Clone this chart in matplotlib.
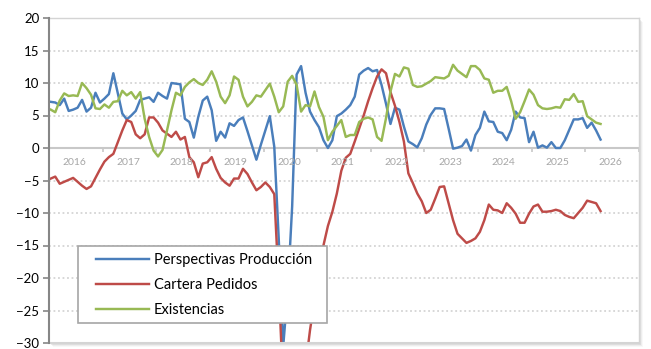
#Encuesta industrial - perspectivas, cartera de pedidos y existencias

import numpy as np
import matplotlib.pyplot as plt
from matplotlib.patches import Rectangle

plt.rcParams['font.family'] = ['Lato', 'DejaVu Sans']

#Monthly data, Jan 2016 onwards
years = list(range(2016, 2027))

produccion = [7.1, 7.0, 6.6, 7.6, 5.7, 5.9, 6.2, 7.4, 5.6, 6.2,
              8.5, 7.0, 7.6, 8.3, 11.5, 8.4, 5.3, 4.4, 5.0, 5.7,
              7.4, 7.6, 7.8, 7.1, 8.5, 8.0, 7.6, 10.0, 9.9, 9.8,
              4.5, 4.0, 1.6, 4.8, 7.3, 7.9, 5.8, 1.1, 2.5, 1.6,
              3.8, 3.4, 4.3, 4.7, 2.6, 0.4, -1.8, 0.5, 2.7, 4.9,
              0.2, -14.0, -30.5, -22.0, -9.0, 11.3, 12.6, 8.5, 5.6, 4.3,
              3.2, 1.2, 0.0, 1.2, 4.9, 5.3, 5.9, 6.6, 7.9, 11.3,
              11.9, 12.3, 11.8, 12.0, 9.7, 6.8, 3.7, 6.2, 5.9, 3.3,
              1.0, 0.6, 0.1, 1.5, 3.6, 5.1, 6.1, 6.1, 6.0, 3.0,
              -0.1, 0.05, 0.3, 1.3, -0.4, 2.0, 3.1, 5.6, 4.1, 4.0,
              2.5, 2.3, 1.2, 2.8, 5.6, 4.7, 4.6, 0.9, 2.5, 0.05,
              0.4, 0.05, 0.9, 0.0, 0.0, 1.2, 2.8, 4.4, 4.4, 4.6,
              3.1, 3.9, 2.7, 1.3]

pedidos = [-4.7, -4.4, -5.5, -5.2, -4.9, -4.6, -5.2, -5.8, -6.3, -5.9,
           -4.6, -3.3, -2.1, -1.4, -0.9, 0.9, 2.7, 4.3, 4.0, 2.1,
           1.5, 2.1, 4.7, 4.7, 3.9, 2.7, 2.2, 1.7, 2.5, 1.3,
           1.7, -1.4, -2.2, -4.5, -2.4, -2.2, -1.4, -3.2, -4.6, -5.3,
           -5.8, -4.7, -4.7, -3.2, -4.0, -5.3, -6.5, -6.0, -5.3, -6.0,
           -7.1, -21.0, -37.0, -41.0, -42.0, -40.0, -37.0, -33.5, -28.0, -23.5,
           -18.5, -15.0, -12.0, -9.8, -7.0, -3.5, -1.5, -0.9, 1.0, 3.0,
           5.0, 7.2, 9.2, 11.0, 12.1, 11.5, 8.6, 6.5, 4.0, 1.0,
           -3.9, -5.4, -7.0, -8.2, -10.0, -9.5, -7.8, -6.0, -5.9, -8.5,
           -11.1, -13.2, -13.9, -14.6, -14.3, -13.9, -12.9, -11.1, -8.7, -9.5,
           -9.6, -10.0, -8.5, -9.2, -10.1, -11.5, -11.5, -10.1, -9.0, -8.7,
           -9.8, -9.8, -9.7, -9.5, -9.7, -10.3, -10.6, -10.8, -10.0, -9.2,
           -8.1, -8.3, -8.5, -9.7]

existencias = [5.9, 5.5, 7.3, 8.4, 8.0, 8.1, 8.0, 10.0, 9.2, 8.2,
               6.1, 6.0, 6.7, 6.2, 7.1, 7.2, 8.8, 8.1, 8.6, 7.6,
               8.6, 4.5, 1.7, -0.4, -1.3, -0.3, 2.7, 5.8, 8.5, 8.1,
               9.4, 10.1, 10.6, 10.0, 9.7, 10.5, 11.8, 10.2, 7.9, 6.9,
               8.1, 11.0, 10.5, 7.9, 6.4, 7.1, 8.1, 7.9, 8.9, 9.9,
               7.9, 5.5, 6.4, 10.2, 11.1, 9.7, 5.6, 6.6, 6.4, 8.7,
               6.3, 4.8, 1.2, 2.5, 3.4, 4.3, 1.7, 2.0, 2.0, 4.0,
               4.5, 4.7, 4.4, 1.7, 1.1, 4.6, 8.7, 11.4, 11.0, 12.4,
               12.2, 9.7, 9.4, 9.5, 9.9, 10.3, 10.9, 10.8, 10.7, 11.1,
               12.8, 11.9, 11.4, 10.9, 12.6, 12.6, 12.0, 10.7, 10.5, 8.5,
               8.8, 8.8, 9.4, 7.2, 4.5, 5.5, 7.2, 9.0, 8.2, 6.6,
               6.1, 6.0, 6.1, 6.3, 6.2, 7.5, 7.4, 8.3, 7.1, 7.2,
               4.9, 4.4, 3.9, 3.7]

series = {
    "Perspectivas Producción": (produccion, "#4a7ebb"),
    "Cartera Pedidos": (pedidos, "#be4b48"),
    "Existencias": (existencias, "#98b954"),
}

W, H = 651, 349
fig = plt.figure(figsize=(W / 100, H / 100), dpi=100)
ax = fig.add_axes([49 / W, 6 / H, 590 / W, 325 / H])

#Drop shadow of the plot area (right and bottom)
for k, a in enumerate([0.35, 0.25, 0.15, 0.08]):
    off = k + 1
    fig.patches.append(Rectangle(((49 + off) / W, (6 - off) / H), 590 / W, 325 / H,
                                 transform=fig.transFigure, facecolor="#b0b0b0",
                                 edgecolor="none", alpha=a, zorder=-1))

#Lines
for name, (vals, col) in series.items():
    x = np.arange(len(vals)) + 0.4
    ax.plot(x, vals, color=col, linewidth=1.75, label=name, zorder=3)

ax.set_xlim(0, 12 * len(years))
ax.set_ylim(-30, 20)
ax.set_yticks(np.arange(-30, 21, 5))
ax.tick_params(axis="y", direction="out", length=4, width=1.2, color="#868686",
               labelsize=9.5, labelcolor="black", pad=3)

#X axis sits on the zero line, year labels below it
ax.spines["bottom"].set_position(("data", 0))
ax.spines["bottom"].set_color("#c8c8c8")
ax.spines["bottom"].set_linewidth(1.5)
ax.spines["bottom"].set_zorder(2)
ax.set_xticks(np.arange(0, 12 * len(years) + 1, 12))
ax.set_xticklabels([])
ax.tick_params(axis="x", direction="out", length=3, width=1.2, color="#c8c8c8")
for k, yr in enumerate(years):
    ax.text(12 * k + 5.7, -2.2, str(yr), ha="center", va="center",
            fontsize=7.5, color="#a6a6a6")

ax.spines["left"].set_color("#868686")
ax.spines["left"].set_linewidth(1.5)
ax.spines["left"].set_zorder(4)
for s in ["top", "right"]:
    ax.spines[s].set_color("#d4d4d4")
    ax.spines[s].set_linewidth(1.0)
ax.axhline(-30, color="#d4d4d4", linewidth=1.5, zorder=4, clip_on=False)

ax.yaxis.grid(True, linestyle=(0, (1, 1.5)), color="#d4d4d4", linewidth=1.3)
ax.set_axisbelow(True)

#Legend box
ax.add_patch(Rectangle((78 / W, (H - 323) / H), 249 / W, 77 / H, transform=fig.transFigure,
                       facecolor="white", edgecolor="#a6a6a6", linewidth=1.2,
                       zorder=5, clip_on=False))
leg = ax.legend(loc="upper left", bbox_to_anchor=(96 / W, (H - 253) / H),
                bbox_transform=fig.transFigure, frameon=False, fontsize=10.5,
                borderpad=0, borderaxespad=0, handlelength=3.6, handletextpad=0.35,
                labelspacing=0.75)
leg.set_zorder(6)
for t in leg.get_texts():
    t.set_color("black")

plt.savefig("out.png", dpi=100)
